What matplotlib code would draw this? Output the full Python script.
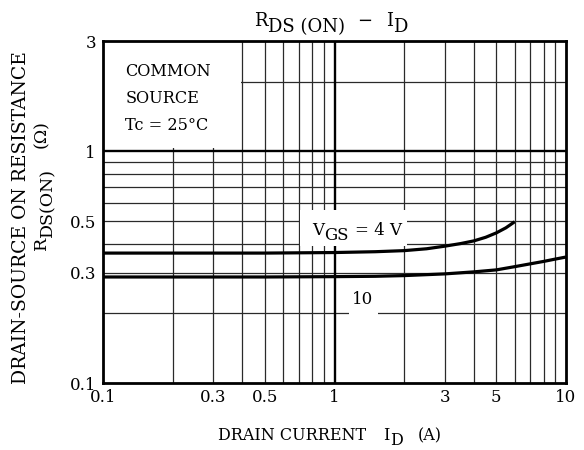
import matplotlib
matplotlib.use('Agg')
import matplotlib.pyplot as plt
import matplotlib.transforms as mtransforms
from matplotlib.patches import Rectangle
from matplotlib.ticker import FixedLocator, NullLocator

plt.rcParams['font.family'] = 'DejaVu Serif'

# ---- data ----
id_vgs4 = [0.1, 0.5, 1.0, 1.5, 2.0, 2.5, 3.0, 3.5, 4.0, 4.5, 5.0, 5.5, 6.0]
r_vgs4 = [0.364, 0.364, 0.366, 0.369, 0.373, 0.380, 0.390, 0.400, 0.411,
          0.426, 0.445, 0.468, 0.497]

id_vgs10 = [0.1, 0.5, 1.0, 1.5, 2.0, 3.0, 4.0, 5.0, 6.0, 7.0, 8.0, 9.0, 10.0]
r_vgs10 = [0.287, 0.287, 0.288, 0.289, 0.291, 0.296, 0.302, 0.308, 0.318,
           0.327, 0.335, 0.343, 0.350]

x_ticks = [0.1, 0.3, 0.5, 1, 3, 5, 10]
x_ticklabels = ['0.1', '0.3', '0.5', '1', '3', '5', '10']
y_ticks = [0.1, 0.3, 0.5, 1, 3]
y_ticklabels = ['0.1', '0.3', '0.5', '1', '3']

x_minor = [0.2, 0.3, 0.4, 0.5, 0.6, 0.7, 0.8, 0.9, 2, 3, 4, 5, 6, 7, 8, 9]
y_minor = [0.2, 0.3, 0.4, 0.5, 0.6, 0.7, 0.8, 0.9, 2]

########################################################################

W, H = 584, 450
fig = plt.figure(figsize=(W / 100, H / 100), dpi=100)
ax = fig.add_axes([103 / W, 1 - 383 / H, 463 / W, 342 / H])
ax.set_xscale('log')
ax.set_yscale('log')
ax.set_xlim(0.1, 10)
ax.set_ylim(0.1, 3)

# grid drawn by hand so white boxes can sit over it
for v in x_minor:
    ax.axvline(v, color='#2a2a2a', lw=0.9, zorder=0.5)
for v in y_minor:
    ax.axhline(v, color='#2a2a2a', lw=0.9, zorder=0.5)
ax.axvline(1, color='black', lw=1.7, zorder=0.6)
ax.axhline(1, color='black', lw=1.7, zorder=0.6)

# white areas behind the labels
blank = dict(facecolor='white', edgecolor='none', zorder=1)
ax.add_patch(Rectangle((0.1, 1.03), 0.396 - 0.1, 3 - 1.03, **blank))
ax.add_patch(Rectangle((0.71, 0.392), 2.06 - 0.71, 0.559 - 0.392, **blank))
ax.add_patch(Rectangle((1.155, 0.193), 1.54 - 1.155, 0.262 - 0.193, **blank))

ax.plot(id_vgs4, r_vgs4, color='black', lw=2.3, zorder=3,
        solid_capstyle='butt', solid_joinstyle='round')
ax.plot(id_vgs10, r_vgs10, color='black', lw=2.3, zorder=3,
        solid_capstyle='butt', solid_joinstyle='round')

ax.text(0.125, 2.42, 'COMMON\nSOURCE\nTc = 25°C', fontsize=11.6,
        linespacing=1.8, va='top', ha='left', zorder=4)

ax.xaxis.set_major_locator(FixedLocator(x_ticks))
ax.xaxis.set_minor_locator(NullLocator())
ax.set_xticklabels(x_ticklabels)
ax.yaxis.set_major_locator(FixedLocator(y_ticks))
ax.yaxis.set_minor_locator(NullLocator())
ax.set_yticklabels(y_ticklabels)
ax.tick_params(length=0, labelsize=12)
ax.tick_params(axis='x', pad=4)
ax.tick_params(axis='y', pad=5)

for s in ax.spines.values():
    s.set_linewidth(2)
    s.set_zorder(5)

########################################################################
# text with full-size, lowered subscripts (as in the datasheet)

ident = mtransforms.IdentityTransform()
renderer = fig.canvas.get_renderer()


def rich(x0, y0, parts, size, rot=0, align='center', zorder=6):
    # x0, y0 in pixels from the top-left; parts = (text, drop_px, gap_px)
    texts = []
    total = 0
    for s, drop, gap in parts:
        t = fig.text(0, 0, s, fontsize=size, transform=ident,
                     rotation=rot, rotation_mode='anchor',
                     ha='left', va='baseline', zorder=zorder)
        bb = t.get_window_extent(renderer)
        w = bb.width if rot == 0 else bb.height
        texts.append((t, drop, w, gap))
        total += w + gap
    total -= texts[-1][3]
    pos = -total / 2 if align == 'center' else 0
    for t, drop, w, gap in texts:
        if rot == 0:
            t.set_position((x0 + pos, H - (y0 + drop)))
        else:
            t.set_position((x0 + drop, H - y0 + pos))
        pos += w + gap


# title
rich(331, 26, [('R', 0, 0), ('DS (ON)', 6, 12), ('−', 0, 14),
               ('I', 0, 0), ('D', 6, 0)], 13)

# x label
rich(330, 440, [('DRAIN CURRENT', 0, 17), ('I', 0, 0), ('D', 5, 15),
                ('(A)', 0, 0)], 11.5)

# y label
fig.text(21, H - 218, 'DRAIN-SOURCE ON RESISTANCE', fontsize=13.5,
         rotation=90, ha='center', va='center', transform=ident)
rich(46, 250, [('R', 0, 0), ('DS(ON)', 6, 0)], 12.5, rot=90, align='left')
rich(46, 148, [('(Ω)', 0, 0)], 12.5, rot=90, align='left')

# curve labels (anchored on data positions)
px, py = ax.transData.transform((1.25, 0.458))
rich(px, H - py + 5, [('V', 0, 0), ('GS', 5, 7), ('= 4 V', 0, 0)], 12)
px, py = ax.transData.transform((1.32, 0.231))
rich(px, H - py + 5, [('10', 0, 0)], 12)

plt.savefig('out.png', dpi=100)
plt.close()
